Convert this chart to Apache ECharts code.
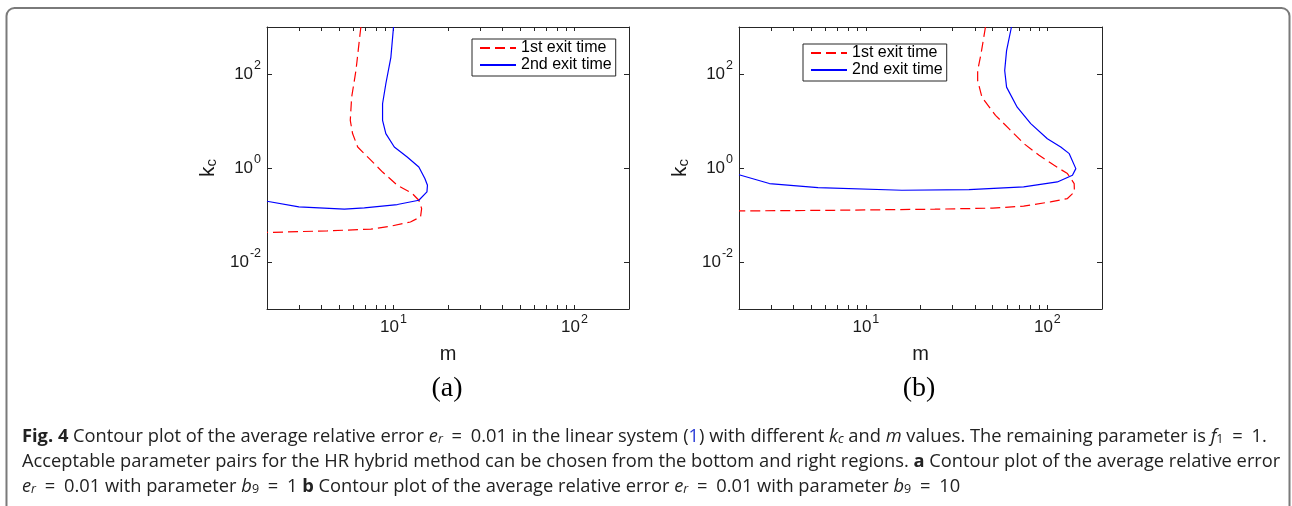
<!DOCTYPE html>
<html>
<head>
<meta charset="utf-8">
<script src="https://cdn.jsdelivr.net/npm/echarts@6/dist/echarts.min.js"></script>
<style>
html,body{margin:0;padding:0;background:#fff;}
#chart{width:1292px;height:506px;}
</style>
</head>
<body>
<div id="chart"></div>
<script>
// ---- data (m, k_c values) ----
const seriesNames = ['1st exit time', '2nd exit time'];

// panel (a): b9 = 1
const redA_m = [6.6, 6.2, 5.87, 5.77, 5.94, 6.34, 7.35, 8.7, 10.5, 12.7, 13.8, 14.3, 14.1, 12.4, 9.7, 7.5, 4.3, 2];
const redA_k = [1000, 118, 32, 10.3, 5.4, 2.8, 1.58, 0.82, 0.43, 0.286, 0.206, 0.137, 0.091, 0.071, 0.058, 0.050, 0.046, 0.0425];
const blueA_m = [10, 9.67, 9.07, 8.7, 8.7, 9.07, 10.1, 11.9, 13.8, 14.9, 15.4, 15.3, 13.8, 10.5, 6.9, 5.35, 3.0, 2];
const blueA_k = [1000, 227, 62, 23.3, 10.3, 5.4, 2.8, 1.71, 1.05, 0.6, 0.43, 0.31, 0.206, 0.167, 0.142, 0.133, 0.149, 0.196];

// panel (b): b9 = 10
const redB_m = [45.6, 43.1, 41.3, 41.3, 43.6, 51.8, 61.4, 74.3, 90, 109, 129, 140.5, 141, 129, 104, 74, 50, 24, 6.7, 2];
const redB_k = [1000, 268, 118.6, 72.8, 32.2, 13.2, 6.86, 3.3, 1.86, 1.14, 0.76, 0.467, 0.31, 0.224, 0.19, 0.155, 0.14, 0.133, 0.126, 0.122];
const blueB_m = [63.4, 59.6, 58.2, 59.6, 68.2, 81, 100, 118.5, 132, 143.5, 137.5, 113.5, 74, 37, 15.8, 5.45, 2.94, 2];
const blueB_k = [1000, 315, 118.6, 52.5, 19.7, 8.8, 4.2, 2.79, 2.02, 0.97, 0.70, 0.505, 0.395, 0.348, 0.336, 0.384, 0.467, 0.72];

// axis ranges and ticks
const mRange = [2, 200];
const kRange = [0.001, 1000];
const mTickValues = [2, 3, 4, 5, 6, 7, 8, 9, 10, 20, 30, 40, 50, 60, 70, 80, 90, 100, 200];
const mLabelValues = [10, 100];
const kTickValues = [0.01, 1, 100];
const panelLabels = ['(a)', '(b)'];

// ---- helpers ----
const lg = Math.log10;
const pairs = (xs, ys) => xs.map((x, i) => [lg(x), lg(ys[i])]);
const AX = '#262626';
const FONT = 'Liberation Sans';
const supRich = {
  b: {fontFamily: FONT, fontSize: 17, lineHeight: 17, verticalAlign: 'bottom', color: '#1a1a1a'},
  s: {fontFamily: FONT, fontSize: 12.5, lineHeight: 12, padding: [0, 0, 10, 1], verticalAlign: 'bottom', color: '#1a1a1a'}
};
const powFmt = v => '{b|10}{s|' + Math.round(v) + '}';

function xAx(grid, pos, withLabels) {
  return {
    type: 'value', gridIndex: grid, position: pos,
    min: lg(mRange[0]), max: lg(mRange[1]),
    axisLine: {show: true, onZero: false, lineStyle: {color: AX, width: 1}},
    axisTick: {show: true, inside: true, length: 4, customValues: mTickValues.map(lg), lineStyle: {color: AX}},
    axisLabel: {show: withLabels, customValues: mLabelValues.map(lg), formatter: powFmt, rich: supRich, margin: 10, hideOverlap: false},
    splitLine: {show: false},
    name: withLabels ? 'm' : '', nameLocation: 'middle', nameGap: 35,
    nameTextStyle: {fontFamily: FONT, fontSize: 20, color: '#1a1a1a'}
  };
}
function yAx(grid, pos, withLabels) {
  return {
    type: 'value', gridIndex: grid, position: pos,
    min: lg(kRange[0]), max: lg(kRange[1]),
    axisLine: {show: true, onZero: false, lineStyle: {color: AX, width: 1}},
    axisTick: {show: true, inside: true, length: 5, customValues: kTickValues.map(lg), lineStyle: {color: AX}},
    axisLabel: {show: withLabels, customValues: kTickValues.map(lg), formatter: powFmt, rich: supRich, margin: 6, hideOverlap: false},
    splitLine: {show: false},
    name: withLabels ? '{k|k}{c|c}' : '', nameLocation: 'middle', nameGap: 48,
    nameTextStyle: {
      rich: {
        k: {fontFamily: FONT, fontSize: 21, lineHeight: 24, verticalAlign: 'bottom', color: '#1a1a1a'},
        c: {fontFamily: FONT, fontSize: 15, lineHeight: 14, verticalAlign: 'bottom', color: '#1a1a1a'}
      }
    }
  };
}
function lineSeries(name, data, xi, yi) {
  const red = name === seriesNames[0];
  return {
    name, type: 'line', xAxisIndex: xi, yAxisIndex: yi, data,
    symbol: 'none', smooth: false, clip: true, animation: false,
    lineStyle: {color: red ? '#ff0000' : '#0000ff', width: 1.2, type: red ? [10, 5] : 'solid'},
    itemStyle: {color: red ? '#ff0000' : '#0000ff'}
  };
}
function legendAt(left, top) {
  return {
    left, top, orient: 'vertical', data: seriesNames,
    itemWidth: 36, itemHeight: 10, itemGap: 1,
    padding: [1, 4, 3, 7],
    borderColor: AX, borderWidth: 1, backgroundColor: '#fff',
    selectedMode: false,
    itemStyle: {opacity: 0, borderWidth: 0},
    textStyle: {fontFamily: FONT, fontSize: 16, lineHeight: 16, color: '#000'}
  };
}

// caption rich styles
const CF = 'Open Sans';
const CS = 18.3;
const SS = 12.5;
const CC = '#222';
const capRich = {
  n: {fontFamily: CF, fontSize: CS, lineHeight: 25, verticalAlign: 'bottom', fill: CC},
  eq: {fontFamily: CF, fontSize: CS, lineHeight: 25, verticalAlign: 'bottom', fill: CC, padding: [0, 4, 0, 4]},
  bd: {fontFamily: CF, fontSize: CS, fontWeight: 'bold', lineHeight: 25, verticalAlign: 'bottom', fill: CC},
  it: {fontFamily: CF, fontSize: CS, fontStyle: 'italic', lineHeight: 25, verticalAlign: 'bottom', fill: CC},
  sub: {fontFamily: CF, fontSize: SS, lineHeight: 11, verticalAlign: 'bottom', fill: CC},
  subi: {fontFamily: CF, fontSize: SS, fontStyle: 'italic', lineHeight: 11, verticalAlign: 'bottom', fill: CC},
  bl: {fontFamily: CF, fontSize: CS, lineHeight: 25, verticalAlign: 'bottom', fill: '#2a3bd6'}
};
const captionLines = [
  '{bd|Fig. 4}{n| Contour plot of the average relative error }{it|e}{subi|r}{eq| = }{n|0.01 in the linear system (}{bl|1}{n|) with different }{it|k}{subi|c}{n| and }{it|m}{n| values. The remaining parameter is }{it|f}{sub|1}{eq| = }{n|1.}',
  '{n|Acceptable parameter pairs for the HR hybrid method can be chosen from the bottom and right regions. }{bd|a}{n| Contour plot of the average relative error}',
  '{it|e}{subi|r}{eq| = }{n|0.01 with parameter }{it|b}{sub|9}{eq| = }{n|1 }{bd|b}{n| Contour plot of the average relative error }{it|e}{subi|r}{eq| = }{n|0.01 with parameter }{it|b}{sub|9}{eq| = }{n|10}'
];
const captionY = [433, 458, 483];

const chart = echarts.init(document.getElementById('chart'), null, {renderer: 'canvas'});
const option = {
  backgroundColor: '#fff',
  animation: false,
  grid: [
    {left: 267, top: 27, width: 362, height: 282, containLabel: false},
    {left: 739, top: 27, width: 363, height: 282, containLabel: false}
  ],
  xAxis: [xAx(0, 'bottom', true), xAx(0, 'top', false), xAx(1, 'bottom', true), xAx(1, 'top', false)],
  yAxis: [yAx(0, 'left', true), yAx(0, 'right', false), yAx(1, 'left', true), yAx(1, 'right', false)],
  legend: [legendAt(472, 39), legendAt(803, 44)],
  series: [
    lineSeries(seriesNames[0], pairs(redA_m, redA_k), 0, 0),
    lineSeries(seriesNames[1], pairs(blueA_m, blueA_k), 0, 0),
    lineSeries(seriesNames[0], pairs(redB_m, redB_k), 2, 2),
    lineSeries(seriesNames[1], pairs(blueB_m, blueB_k), 2, 2)
  ],
  graphic: [
    {type: 'rect', shape: {x: 6.5, y: 8, width: 1283, height: 540, r: 8}, style: {fill: 'none', stroke: '#7a7a7a', lineWidth: 2}, silent: true, z: 0},
    {type: 'text', x: 447, y: 389, style: {text: panelLabels[0], fontFamily: 'Liberation Serif', fontSize: 28, fill: '#000', align: 'center', verticalAlign: 'middle'}},
    {type: 'text', x: 919, y: 389, style: {text: panelLabels[1], fontFamily: 'Liberation Serif', fontSize: 28, fill: '#000', align: 'center', verticalAlign: 'middle'}}
  ].concat(captionLines.map((t, i) => ({
    type: 'text', x: 22, y: captionY[i],
    style: {text: t, rich: capRich, fontFamily: CF, fontSize: CS, lineHeight: 25, fill: CC, align: 'left', verticalAlign: 'middle'}
  })))
};
chart.setOption(option);
</script>
</body>
</html>
